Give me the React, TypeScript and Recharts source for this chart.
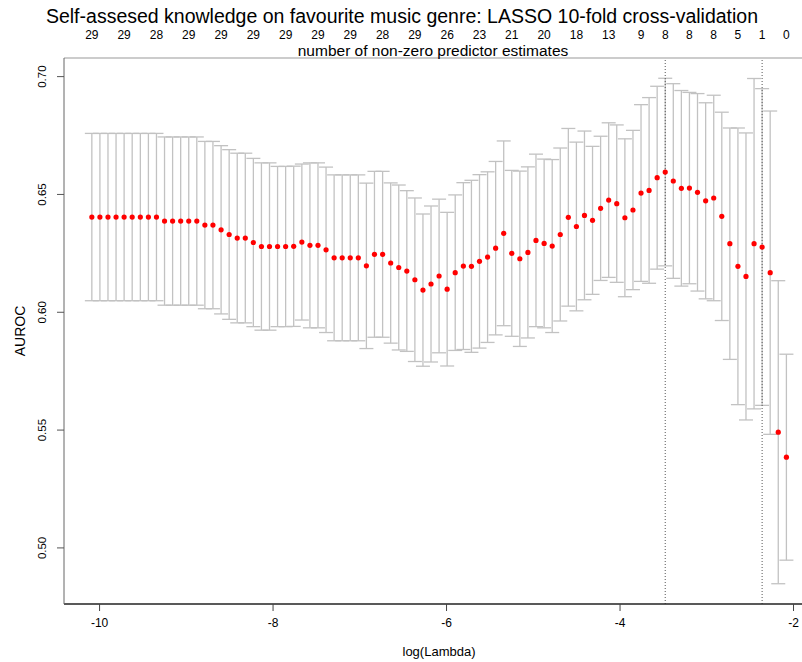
import React from 'react'
import {
  ComposedChart,
  Line,
  ErrorBar,
  XAxis,
  YAxis,
  ReferenceLine
} from 'recharts'

// log(lambda) grid, one entry per fitted lambda
const logLambda = [
  -10.089, -9.996, -9.903, -9.81, -9.717, -9.624, -9.53, -9.437, -9.344, -9.251,
  -9.158, -9.065, -8.972, -8.879, -8.786, -8.693, -8.599, -8.506, -8.413, -8.32,
  -8.227, -8.134, -8.041, -7.948, -7.855, -7.762, -7.668, -7.575, -7.482, -7.389,
  -7.296, -7.203, -7.11, -7.017, -6.924, -6.831, -6.737, -6.644, -6.551, -6.458,
  -6.365, -6.272, -6.179, -6.086, -5.993, -5.9, -5.806, -5.713, -5.62, -5.527,
  -5.434, -5.341, -5.248, -5.155, -5.062, -4.969, -4.875, -4.782, -4.689, -4.596,
  -4.503, -4.41, -4.317, -4.224, -4.131, -4.038, -3.944, -3.851, -3.758, -3.665,
  -3.572, -3.479, -3.386, -3.293, -3.2, -3.107, -3.013, -2.92, -2.827, -2.734,
  -2.641, -2.548, -2.455, -2.362, -2.269, -2.176, -2.082
]

// mean cross-validated AUROC
const cvMean = [
  0.6404, 0.6404, 0.6404, 0.6404, 0.6404, 0.6404, 0.6404, 0.6404, 0.6404, 0.6387,
  0.6387, 0.6387, 0.6387, 0.6387, 0.637, 0.637, 0.635, 0.633, 0.6315, 0.6315,
  0.6296, 0.6279, 0.6279, 0.6279, 0.6279, 0.628, 0.6298, 0.6284, 0.6284, 0.6265,
  0.6231, 0.6231, 0.6231, 0.6231, 0.6197, 0.6246, 0.6246, 0.6209, 0.619, 0.6175,
  0.6138, 0.6094, 0.612, 0.6154, 0.6098, 0.6168, 0.6196, 0.6195, 0.6216, 0.6234,
  0.6272, 0.6335, 0.625, 0.6227, 0.6254, 0.6305, 0.6292, 0.6281, 0.633, 0.6403,
  0.6364, 0.6411, 0.639, 0.6441, 0.6476, 0.6461, 0.6401, 0.6434, 0.6506, 0.6517,
  0.6571, 0.6595, 0.6557, 0.6526, 0.6527, 0.6509, 0.6473, 0.6485, 0.6407, 0.6291,
  0.6195, 0.6152, 0.6291, 0.6277, 0.6168, 0.5491, 0.5385
]

// standard error of the cross-validated AUROC
const cvSd = [
  0.0355, 0.0355, 0.0355, 0.0355, 0.0355, 0.0355, 0.0355, 0.0355, 0.0355, 0.0357,
  0.0357, 0.0357, 0.0357, 0.0357, 0.0355, 0.0355, 0.0357, 0.036, 0.036, 0.036,
  0.0357, 0.0355, 0.0355, 0.034, 0.034, 0.034, 0.0331, 0.035, 0.035, 0.0351,
  0.0352, 0.0352, 0.0352, 0.0352, 0.0351, 0.0352, 0.0352, 0.034, 0.035, 0.0341,
  0.0347, 0.0323, 0.0331, 0.0326, 0.0326, 0.033, 0.0354, 0.0365, 0.0368, 0.0362,
  0.0368, 0.0392, 0.0352, 0.0372, 0.0363, 0.0366, 0.0358, 0.0367, 0.0367, 0.0377,
  0.0358, 0.0358, 0.0314, 0.0306, 0.0328, 0.0334, 0.0335, 0.0338, 0.0375, 0.0394,
  0.0388, 0.0398, 0.0413, 0.0415, 0.0406, 0.0419, 0.0416, 0.0436, 0.0442, 0.0491,
  0.0587, 0.0609, 0.0701, 0.0672, 0.0686, 0.0643, 0.0437
]

// top axis: number of non-zero coefficients (only the labels that are printed)
const dfTicks = [
  -10.089, -9.717, -9.344, -8.972, -8.599, -8.227, -7.855, -7.482, -7.11, -6.737,
  -6.365, -5.993, -5.62, -5.248, -4.875, -4.503, -4.131, -3.758, -3.479, -3.2,
  -2.92, -2.641, -2.362, -2.082
]
const dfLabels = [
  '29', '29', '28', '29', '29', '29', '29', '29', '29', '28',
  '29', '26', '23', '21', '20', '18', '13', '9', '8', '8',
  '8', '5', '1', '0'
]

const xTicks = [-10, -8, -6, -4, -2]
const yTicks = [0.5, 0.55, 0.6, 0.65, 0.7]

// lambda.min and lambda.1se
const lambdaMinLog = -3.479
const lambda1seLog = -2.362

const data = logLambda.map((lam, i) => ({ lam, cvm: cvMean[i], cvsd: cvSd[i] }))

const FONT = '"Liberation Sans", Arial, Helvetica, sans-serif'

const TopTick = ({ x, index }: any) => (
  <text x={x} y={35} textAnchor="middle" dominantBaseline="central" fontSize={12} fill="#000" fontFamily={FONT}>
    {dfLabels[index]}
  </text>
)

const BottomTick = ({ x, payload }: any) => (
  <text x={x} y={623} textAnchor="middle" dominantBaseline="central" fontSize={12} fill="#000" fontFamily={FONT}>
    {payload.value}
  </text>
)

const LeftTick = ({ y, payload }: any) => (
  <text
    x={42}
    y={y}
    transform={`rotate(-90, 42, ${y})`}
    textAnchor="middle"
    dominantBaseline="central"
    fontSize={11.5}
    fill="#000"
    fontFamily={FONT}
  >
    {payload.value.toFixed(2)}
  </text>
)

const Txt = ({ x, y, size, rotate = 0, children }: any) => (
  <div
    style={{
      position: 'absolute',
      left: x,
      top: y,
      transform: `translate(-50%, -50%) rotate(${rotate}deg)`,
      fontFamily: FONT,
      fontSize: size,
      whiteSpace: 'nowrap',
      color: '#000',
      lineHeight: 1
    }}
  >
    {children}
  </div>
)

export default function App() {
  return (
    <div style={{ position: 'absolute', left: 0, top: 0, width: 802, height: 662, overflow: 'hidden', background: '#fff' }}>
      <ComposedChart width={820} height={662} data={data} margin={{ top: 0, right: 8, bottom: 0, left: 0 }}>
        <XAxis
          dataKey="lam"
          type="number"
          domain={[-10.41, -1.787]}
          allowDataOverflow
          ticks={xTicks}
          interval={0}
          tickSize={7}
          height={58}
          axisLine={{ stroke: '#222', strokeWidth: 1.5 }}
          tickLine={{ stroke: '#444' }}
          tick={<BottomTick />}
        />
        <XAxis
          xAxisId="top"
          orientation="top"
          dataKey="lam"
          type="number"
          domain={[-10.41, -1.787]}
          allowDataOverflow
          ticks={dfTicks}
          interval={0}
          height={58}
          axisLine={{ stroke: '#999' }}
          tickLine={false}
          tick={<TopTick />}
        />
        <YAxis
          type="number"
          domain={[0.4762, 0.7079]}
          allowDataOverflow
          ticks={yTicks}
          interval={0}
          width={64}
          tickSize={7}
          axisLine={{ stroke: '#666' }}
          tickLine={{ stroke: '#555' }}
          tick={<LeftTick />}
        />
        <Line
          dataKey="cvm"
          stroke="none"
          isAnimationActive={false}
          activeDot={false}
          dot={{ r: 2.6, fill: '#ff0000', stroke: 'none' }}
        >
          <ErrorBar dataKey="cvsd" direction="y" width={7} stroke="#c2c2c2" strokeWidth={1.3} isAnimationActive={false} />
        </Line>
        <ReferenceLine x={lambdaMinLog} stroke="#555" strokeDasharray="1 2" />
        <ReferenceLine x={lambda1seLog} stroke="#555" strokeDasharray="1 2" />
      </ComposedChart>
      <Txt x={402} y={17} size={19.5}>
        Self-assesed knowledge on favourite music genre: LASSO 10-fold cross-validation
      </Txt>
      <Txt x={433} y={51} size={15.5}>number of non-zero predictor estimates</Txt>
      <Txt x={20} y={331} size={14} rotate={-90}>AUROC</Txt>
      <Txt x={439} y={651} size={13}>log(Lambda)</Txt>
    </div>
  )
}
